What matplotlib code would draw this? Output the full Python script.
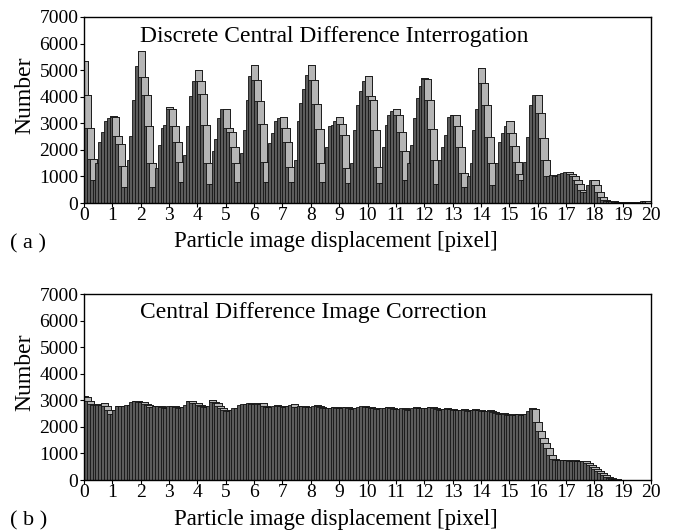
import numpy as np
import matplotlib
matplotlib.use("Agg")
import matplotlib.pyplot as plt

plt.rcParams['font.family'] = ['Liberation Serif', 'DejaVu Serif']

bin_width = 0.1
x_ticks = list(range(0, 21))
y_ticks = list(range(0, 7001, 1000))

title_a = "Discrete Central Difference Interrogation"
title_b = "Central Difference Image Correction"
x_label = "Particle image displacement [pixel]"
y_label = "Number"

# Panel (a) counts, x = 0.0 ... 19.9 (rows of 10 bins per pixel)
counts_a = [
    5360, 4050, 2840, 1650, 870, 1500, 2280, 2690, 3100, 3200,
    3260, 3240, 2530, 2230, 1400, 615, 1600, 2530, 3890, 5140,
    5720, 4740, 4050, 2880, 1520, 620, 1300, 2180, 2820, 2930,
    3630, 3520, 2900, 2310, 1560, 800, 1800, 2900, 4010, 4580,
    5020, 4600, 4090, 2930, 1500, 700, 1940, 2400, 3200, 3520,
    3520, 2840, 2690, 2120, 1500, 800, 1900, 2730, 3880, 4790,
    5200, 4640, 3820, 2980, 1530, 800, 2250, 2630, 3100, 3200,
    3220, 2820, 2310, 1370, 800, 1620, 3070, 3760, 4300, 4800,
    5200, 4640, 3740, 2780, 1490, 800, 2120, 2880, 2930, 3100,
    3250, 2990, 2570, 1310, 740, 1490, 2750, 3700, 4200, 4600,
    4770, 4010, 3880, 2750, 1370, 740, 2120, 2930, 3320, 3450,
    3550, 3320, 2690, 1940, 870, 1500, 2180, 3200, 3950, 4400,
    4700, 4680, 3880, 2800, 1600, 700, 1600, 2120, 2570, 3250,
    3320, 3300, 2900, 2120, 1120, 615, 1000, 1490, 2750, 3520,
    5080, 4510, 3700, 2500, 1490, 680, 1490, 2310, 2630, 2900,
    3070, 2640, 2140, 1550, 1100, 870, 1550, 2500, 3700, 4050,
    4080, 3380, 2440, 1600, 1000, 1050, 1060, 1020, 1080, 1120,
    1150, 1150, 1100, 1000, 880, 700, 480, 400, 680, 870,
    870, 680, 430, 240, 110, 80, 70, 70, 50, 30,
    20, 20, 20, 20, 20, 20, 30, 60, 80, 60,
]

# Panel (b) counts, x = 0.0 ... 19.9
counts_b = [
    3150, 3130, 2980, 2850, 2830, 2860, 2840, 2880, 2800, 2650,
    2500, 2630, 2800, 2780, 2800, 2820, 2830, 2950, 2990, 2980,
    2950, 2920, 2870, 2820, 2750, 2800, 2780, 2780, 2760, 2720,
    2780, 2790, 2790, 2760, 2700, 2750, 2830, 2990, 2980, 2900,
    2880, 2820, 2780, 2750, 2790, 3000, 2950, 2900, 2800, 2700,
    2640, 2600, 2650, 2700, 2720, 2820, 2850, 2870, 2880, 2900,
    2870, 2900, 2850, 2880, 2800, 2760, 2750, 2780, 2820, 2790,
    2800, 2750, 2780, 2840, 2850, 2760, 2780, 2800, 2780, 2760,
    2760, 2780, 2820, 2800, 2760, 2700, 2700, 2720, 2760, 2740,
    2700, 2720, 2760, 2740, 2700, 2680, 2720, 2740, 2780, 2800,
    2760, 2740, 2720, 2700, 2680, 2700, 2720, 2760, 2740, 2700,
    2680, 2660, 2700, 2720, 2680, 2650, 2700, 2760, 2720, 2700,
    2700, 2720, 2760, 2740, 2700, 2660, 2640, 2680, 2700, 2680,
    2660, 2640, 2620, 2650, 2680, 2640, 2600, 2620, 2660, 2640,
    2620, 2600, 2580, 2620, 2600, 2560, 2520, 2500, 2520, 2480,
    2460, 2470, 2450, 2480, 2470, 2460, 2500, 2600, 2700, 2680,
    2180, 1850, 1580, 1380, 1200, 950, 800, 760, 740, 740,
    760, 740, 720, 740, 730, 720, 700, 720, 650, 560,
    500, 420, 330, 260, 180, 120, 70, 40, 20, 15,
    10, 10, 5, 5, 5, 5, 5, 5, 5, 5,
]

DARK = "#5c5c5c"
LIGHT = "#b5b5b5"
EDGE = "#111111"


def draw_hist(ax, counts, title, title_y, xlabel_y):
    vals = np.asarray(counts, dtype=float)
    x = np.arange(len(vals)) * bin_width
    nxt = np.append(vals[1:], 0.0)
    top = np.where(vals > nxt, vals - nxt, 0.0)
    left = x - 0.1
    dark = ax.bar(left, vals, width=0.25, align='edge', color=DARK,
                  edgecolor=EDGE, linewidth=0.6)
    light = ax.bar(left, top, bottom=nxt, width=0.25, align='edge',
                   color=LIGHT, edgecolor=EDGE, linewidth=0.6)
    for i, (d, l) in enumerate(zip(dark.patches, light.patches)):
        d.set_zorder(2 + i * 0.002)
        l.set_zorder(2 + i * 0.002 + 0.001)
        if top[i] <= 0:
            l.set_visible(False)
    ax.set_xlim(0, 20)
    ax.set_ylim(0, 7000)
    ax.set_xticks(x_ticks)
    ax.set_yticks(y_ticks)
    ax.tick_params(axis='both', labelsize=14, direction='out', length=3,
                   width=0.8, pad=1)
    ax.tick_params(axis='x', pad=0)
    for s in ax.spines.values():
        s.set_linewidth(1.0)
        s.set_zorder(10)
    ax.text(0.099, title_y, title, transform=ax.transAxes, fontsize=16.9,
            ha='left', va='center', zorder=20)
    ax.set_ylabel(y_label, fontsize=17)
    ax.yaxis.set_label_coords(-0.085, 0.58)
    ax.set_xlabel(x_label, fontsize=16.4)
    ax.xaxis.set_label_coords(0.444, xlabel_y)


fig = plt.figure(figsize=(6.77, 5.31), dpi=100)
ax1 = fig.add_axes([0.1241, 0.6177, 0.8375, 0.3503])
ax2 = fig.add_axes([0.1241, 0.0960, 0.8375, 0.3503])
draw_hist(ax1, counts_a, title_a, 0.894, -0.15)
draw_hist(ax2, counts_b, title_b, 0.898, -0.155)

fig.text(0.015, 0.540, "( a )", fontsize=16, ha='left', va='center')
fig.text(0.015, 0.020, "( b )", fontsize=16, ha='left', va='center')

fig.savefig("out.png", dpi=100)
